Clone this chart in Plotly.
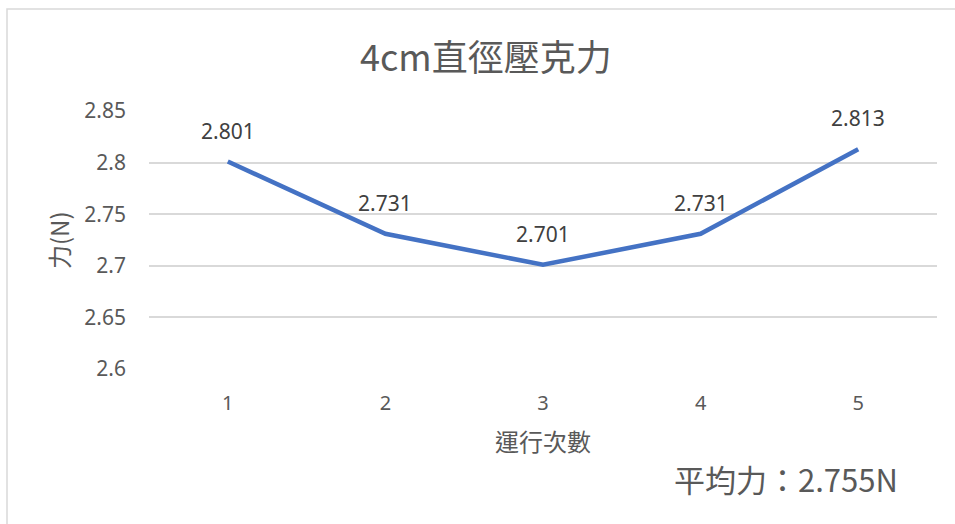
import plotly.graph_objects as go

# Runs (x) and measured force in newtons (y)
runs = [1, 2, 3, 4, 5]
force = [2.801, 2.731, 2.701, 2.731, 2.813]
label_text = ["2.801", "2.731", "2.701", "2.731", "2.813"]

y_ticks = [2.6, 2.65, 2.7, 2.75, 2.8, 2.85]
y_tick_text = ["2.6", "2.65", "2.7", "2.75", "2.8", "2.85"]

title_text = "4cm直徑壓克力"
x_title = "運行次數"
y_title = "力(N)"
note_text = "平均力：2.755N"

LINE = "#4472C4"
GRID = "#D9D9D9"
TXT = "#595959"
LBL = "#404040"
CJK = "Noto Sans CJK TC, Noto Sans, sans-serif"
NUM = "Noto Sans, Open Sans, sans-serif"

# Plot-area geometry in pixels
L, R, T, B = 149, 18, 111, 155
PW, PH = 955 - L - R, 524 - T - B

fig = go.Figure()
fig.add_trace(go.Scatter(
    x=runs, y=force, mode="lines",
    line=dict(color=LINE, width=4.5),
    hoverinfo="skip", showlegend=False,
))

annotations = []
for xv, yv, t in zip(runs, force, label_text):
    annotations.append(dict(
        x=xv, y=yv, xref="x", yref="y", text=t, showarrow=False,
        yanchor="middle", yshift=31,
        font=dict(family=NUM, size=21, color=LBL),
    ))

annotations += [
    dict(text=title_text, xref="paper", yref="paper",
         x=(486 - L) / PW, y=1 + (T - 55) / PH,
         xanchor="center", yanchor="middle", showarrow=False,
         font=dict(family=CJK, size=36, color=TXT)),
    dict(text=x_title, xref="paper", yref="paper", x=0.5, y=0,
         xanchor="center", yanchor="middle", yshift=-71, showarrow=False,
         font=dict(family=CJK, size=24, color=TXT)),
    dict(text=y_title, xref="paper", yref="paper", x=0, y=0.5,
         xanchor="center", yanchor="middle", xshift=-91, textangle=-90,
         showarrow=False,
         font=dict(family=CJK, size=24, color=TXT)),
    dict(text=note_text, xref="paper", yref="paper", x=1, y=0,
         xanchor="right", yanchor="middle", xshift=-37, yshift=-109,
         showarrow=False,
         font=dict(family=CJK, size=31, color=TXT)),
]

fig.update_layout(
    width=955, height=524,
    margin=dict(l=L, r=R, t=T, b=B),
    paper_bgcolor="white", plot_bgcolor="white",
    annotations=annotations,
    xaxis=dict(
        range=[0.5, 5.5], tickvals=runs, ticktext=[str(r) for r in runs],
        showgrid=False, zeroline=False, showline=False, ticks="",
        tickfont=dict(family=NUM, size=20, color=TXT),
        ticklabelstandoff=20, fixedrange=True,
    ),
    yaxis=dict(
        range=[2.6, 2.85], tickvals=y_ticks, ticktext=y_tick_text,
        showgrid=True, gridcolor=GRID, gridwidth=1.5, zeroline=False,
        showline=False, ticks="",
        tickfont=dict(family=NUM, size=21, color=TXT),
        ticklabelstandoff=22, fixedrange=True,
    ),
    shapes=[
        dict(type="rect", xref="paper", yref="paper",
             x0=(7 - L) / PW, x1=1.2, y0=-1.0, y1=1 + (T - 9) / PH,
             line=dict(color="#D9D9D9", width=1.5),
             fillcolor="rgba(0,0,0,0)", layer="below"),
    ],
)

fig.write_html("out.html")
